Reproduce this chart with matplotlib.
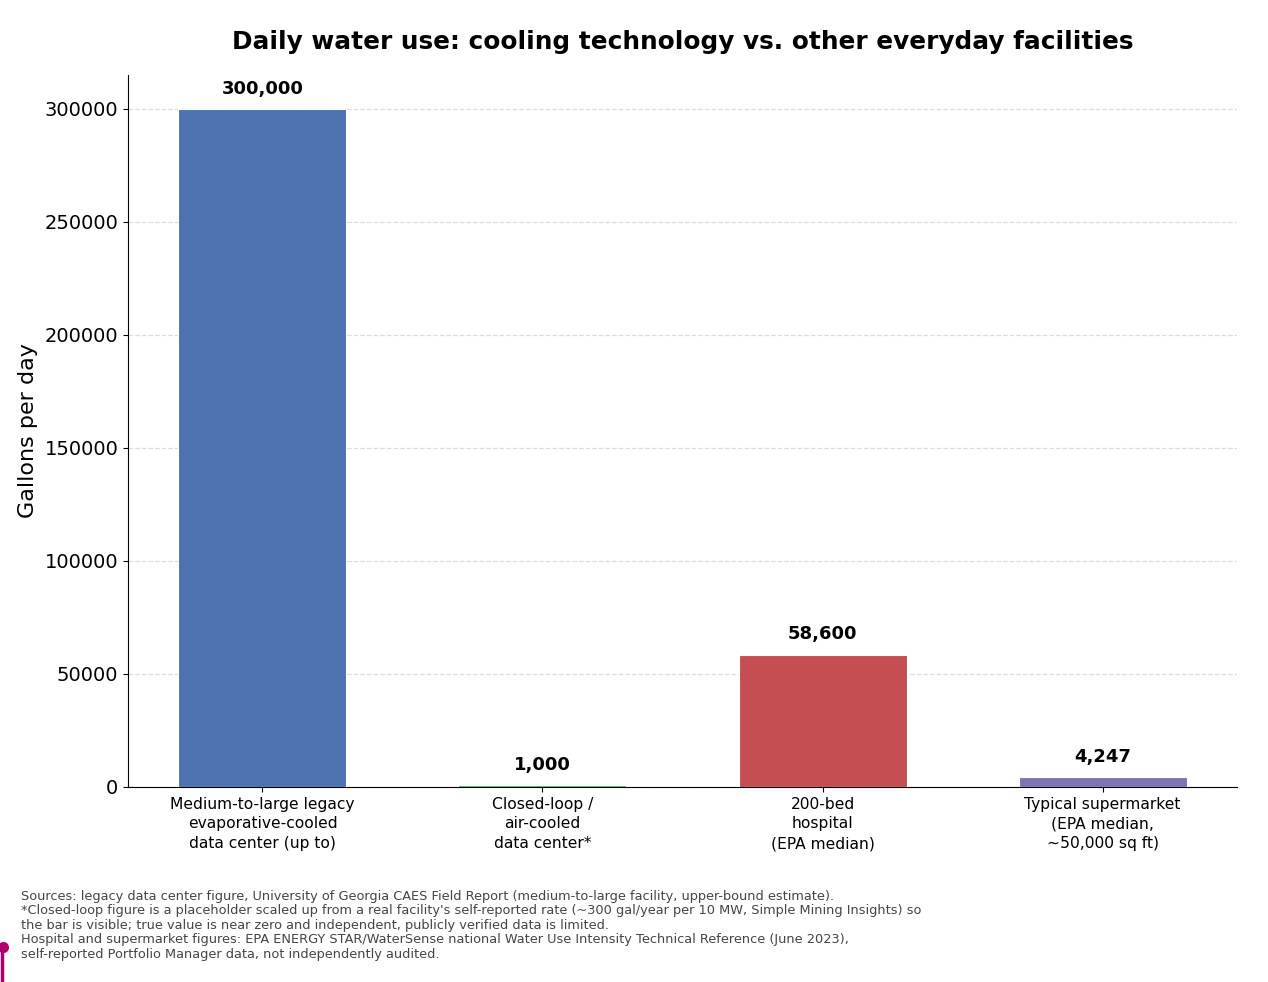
import matplotlib
matplotlib.use("Agg")
import matplotlib.pyplot as plt
from matplotlib.lines import Line2D

# facilities and daily use (gallons per day)
categories = [
    "Medium-to-large legacy\nevaporative-cooled\ndata center (up to)",
    "Closed-loop /\nair-cooled\ndata center*",
    "200-bed\nhospital\n(EPA median)",
    "Typical supermarket\n(EPA median,\n~50,000 sq ft)",
]
gallons = [300000, 1000, 58600, 4247]
bar_colors = ["#4C72B0", "#55A868", "#C44E52", "#8172B3"]

footnote = (
    "Sources: legacy data center figure, University of Georgia CAES Field Report "
    "(medium-to-large facility, upper-bound estimate).\n"
    "*Closed-loop figure is a placeholder scaled up from a real facility's self-reported rate "
    "(~300 gal/year per 10 MW, Simple Mining Insights) so\n"
    "the bar is visible; true value is near zero and independent, publicly verified data is limited.\n"
    "Hospital and supermarket figures: EPA ENERGY STAR/WaterSense national Water Use Intensity "
    "Technical Reference (June 2023),\n"
    "self-reported Portfolio Manager data, not independently audited."
)

fig = plt.figure(figsize=(12.68, 9.82), dpi=100)
ax = fig.add_axes([0.101, 0.1986, 0.8745, 0.725])

x = range(len(categories))
bars = ax.bar(x, gallons, width=0.6, color=bar_colors,
              edgecolor="white", linewidth=0.8, zorder=3)

labels = [f"{v:,}" for v in gallons]
ax.bar_label(bars, labels=labels, padding=8, fontsize=13, fontweight="bold")

ax.set_xticks(list(x))
ax.set_xticklabels(categories, fontsize=11.2, linespacing=1.4)
ax.tick_params(axis="y", labelsize=14)
ax.set_ylim(0, 315000)
ax.set_ylabel("Gallons per day", fontsize=16, labelpad=5)
ax.set_title("Daily water use: cooling technology vs. other everyday facilities",
             fontsize=17.8, fontweight="bold", pad=19)

ax.yaxis.grid(True, linestyle="--", color="#dddddd", linewidth=0.9, zorder=0)
ax.set_axisbelow(True)
ax.spines["top"].set_visible(False)
ax.spines["right"].set_visible(False)

fig.text(0.0166, 0.094, footnote, fontsize=9.3, color="#444444",
         va="top", ha="left", linespacing=1.16)

# small magenta mark at lower left edge
fig.add_artist(Line2D([0.0012, 0.0012], [0.002, 0.036], color="#b0006e",
                      linewidth=2.5, transform=fig.transFigure))
fig.add_artist(Line2D([0.0025], [0.036], marker="o", markersize=7,
                      color="#b0006e", transform=fig.transFigure))

fig.savefig("out.png", dpi=100)
